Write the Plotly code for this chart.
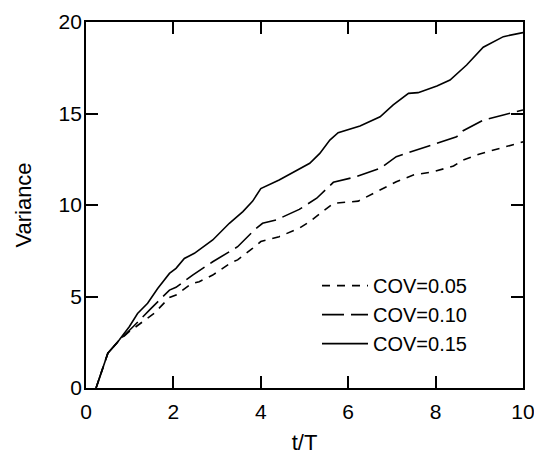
import plotly.graph_objects as go

# COV = 0.15 (solid)
t_015 = [0.23, 0.5, 0.76, 0.99, 1.18, 1.41, 1.64, 1.91, 2.06, 2.25, 2.48, 2.9, 3.28, 3.59, 3.81, 4.0,
         4.42, 4.9, 5.12, 5.35, 5.58, 5.77, 6.27, 6.73, 7.03, 7.38, 7.6, 8.03, 8.33, 8.71, 9.09, 9.55, 10.0]
v_015 = [0, 1.9, 2.62, 3.35, 4.07, 4.63, 5.44, 6.26, 6.54, 7.08, 7.36, 8.09, 9.0, 9.64, 10.2, 10.9,
         11.37, 12.0, 12.28, 12.82, 13.55, 13.95, 14.32, 14.82, 15.47, 16.1, 16.14, 16.5, 16.83, 17.65, 18.62, 19.2, 19.42]

# COV = 0.10 (long dash)
t_010 = [0.23, 0.5, 0.76, 1.0, 1.1, 1.49, 1.91, 2.06, 2.44, 2.9, 3.32, 3.47, 3.85, 4.04, 4.35, 4.88,
         5.28, 5.66, 6.19, 6.73, 7.1, 7.72, 8.18, 8.48, 8.63, 9.09, 9.55, 10.0]
v_010 = [0, 1.9, 2.6, 3.2, 3.4, 4.35, 5.35, 5.5, 6.17, 6.9, 7.54, 7.72, 8.63, 9.0, 9.18, 9.76,
         10.37, 11.24, 11.55, 12.0, 12.64, 13.13, 13.46, 13.73, 14.06, 14.64, 14.92, 15.19]

# COV = 0.05 (short dash)
t_005 = [0.23, 0.5, 0.76, 1.0, 1.56, 1.91, 2.06, 2.4, 2.59, 2.9, 3.32, 3.47, 3.81, 4.0, 4.42, 4.88,
         5.12, 5.66, 6.23, 6.57, 7.1, 7.49, 7.95, 8.41, 8.63, 9.01, 9.47, 9.93, 10.0]
v_005 = [0, 1.9, 2.6, 3.1, 4.08, 4.95, 5.08, 5.68, 5.81, 6.17, 6.85, 7.0, 7.63, 8.0, 8.27, 8.73,
         9.09, 10.09, 10.21, 10.63, 11.27, 11.64, 11.82, 12.13, 12.46, 12.79, 13.1, 13.41, 13.45]

x_ticks = [0, 2, 4, 6, 8, 10]
y_ticks = [0, 5, 10, 15, 20]

FONT = "Liberation Sans, Arial, sans-serif"

fig = go.Figure()
fig.add_trace(go.Scatter(x=t_005, y=v_005, mode="lines", name="COV=0.05",
                         line=dict(color="black", width=1.6, dash="8px,7px")))
fig.add_trace(go.Scatter(x=t_010, y=v_010, mode="lines", name="COV=0.10",
                         line=dict(color="black", width=1.6, dash="22px,7px")))
fig.add_trace(go.Scatter(x=t_015, y=v_015, mode="lines", name="COV=0.15",
                         line=dict(color="black", width=1.6)))

axis_common = dict(showline=True, linecolor="black", linewidth=1.8, mirror="ticks",
                   ticks="inside", ticklen=12, tickwidth=1.8, tickcolor="black",
                   showgrid=False, zeroline=False, automargin=False,
                   tickfont=dict(family=FONT, size=21, color="black"))

fig.update_xaxes(range=[0, 10], tickvals=x_ticks, ticktext=[str(v) for v in x_ticks],
                 title=dict(text="t/T", font=dict(family=FONT, size=22, color="black"), standoff=13),
                 ticklabelstandoff=4, ticklabeloverflow="allow", **axis_common)
fig.update_yaxes(range=[0, 20], tickvals=y_ticks, ticktext=[str(v) for v in y_ticks],
                 title=dict(text="Variance", font=dict(family=FONT, size=22, color="black"), standoff=21),
                 ticklabelstandoff=-2, **axis_common)

fig.update_layout(
    width=534, height=457,
    margin=dict(l=86, r=11, t=22, b=69),
    paper_bgcolor="white", plot_bgcolor="white",
    showlegend=True,
    legend=dict(x=0.5286, y=0.333, xanchor="left", yanchor="top",
                bgcolor="rgba(0,0,0,0)", borderwidth=0,
                font=dict(family=FONT, size=20, color="black"),
                itemwidth=46, tracegroupgap=0),
)

fig.write_html("out.html", config={"displayModeBar": False},
               post_script="document.body.style.margin='0';document.body.style.overflow='hidden';")
